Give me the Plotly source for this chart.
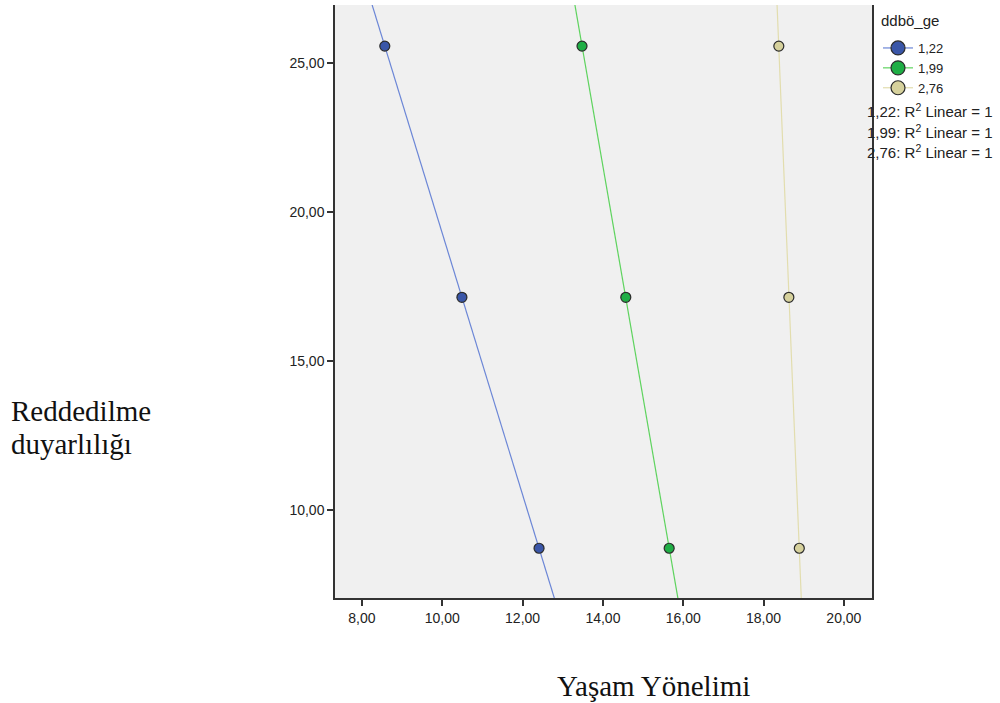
import numpy as np
import plotly.graph_objects as go

# Data
groups = ["1,22", "1,99", "2,76"]
y_vals = [25.57, 17.14, 8.72]                 # Reddedilme duyarlılığı
x_blue = [8.57, 10.49, 12.41]                 # Yaşam Yönelimi, ddbö_ge = 1,22
x_green = [13.48, 14.57, 15.65]               # ddbö_ge = 1,99
x_tan = [18.38, 18.63, 18.89]                 # ddbö_ge = 2,76
x_series = [x_blue, x_green, x_tan]
x_ticks = [8, 10, 12, 14, 16, 18, 20]
y_ticks = [10, 15, 20, 25]

marker_colors = ["#3A56A8", "#1FAE45", "#D6D19C"]
line_colors = ["#6B86D6", "#5ED35E", "#E2DDAE"]

L, R, T, B = 335, 872, 5, 598
PW, PH = R - L, B - T


def px(x):
    return (x - L) / PW


def py(y):
    return (B - y) / PH


fig = go.Figure()

y_ext = np.array([0.0, 40.0])
for g, xs, mc, lc in zip(groups, x_series, marker_colors, line_colors):
    # linear fit (R^2 = 1) of y on x, extended across the plot
    b, a = np.polyfit(xs, y_vals, 1)
    x_ext = (y_ext - a) / b
    fig.add_trace(go.Scatter(x=x_ext, y=y_ext, mode="lines",
                             line=dict(color=lc, width=1.2),
                             showlegend=False, hoverinfo="skip"))
    fig.add_trace(go.Scatter(x=xs, y=y_vals, mode="markers",
                             marker=dict(color=mc, size=10,
                                         line=dict(color="#2B2B2B", width=1.2)),
                             showlegend=False))
    # legend entry
    fig.add_trace(go.Scatter(x=[None], y=[None], mode="lines+markers", name=g,
                             marker=dict(color=mc, size=14,
                                         line=dict(color="#2B2B2B", width=1.2)),
                             line=dict(color=lc, width=1.2)))

fig.update_layout(
    width=1000, height=703,
    margin=dict(l=L, r=1000 - R, t=T, b=703 - B),
    paper_bgcolor="white",
    plot_bgcolor="#F0F0F0",
    separators=",.",
    font=dict(family="Liberation Sans, Arial", size=14, color="#222"),
    showlegend=True,
    legend=dict(
        x=px(878), y=py(33), xanchor="left", yanchor="top",
        font=dict(size=13),
        itemwidth=30, tracegroupgap=0,
        bgcolor="rgba(0,0,0,0)",
    ),
)

fig.update_xaxes(range=[7.33, 20.70], tickvals=x_ticks, tickformat=".2f",
                 showgrid=False, zeroline=False,
                 showline=True, linecolor="#333", linewidth=1.5,
                 ticks="outside", ticklen=6, tickwidth=1.5, tickcolor="#333",
                 tickfont=dict(size=14, color="#222"))
fig.update_yaxes(range=[7.05, 26.95], tickvals=y_ticks, tickformat=".2f",
                 showgrid=False, zeroline=False,
                 showline=True, linecolor="#333", linewidth=1.5, mirror=True,
                 ticks="outside", ticklen=6, tickwidth=1.5, tickcolor="#333",
                 tickfont=dict(size=14, color="#222"))

# Legend title
fig.add_annotation(text="ddbö_ge", xref="paper", yref="paper",
                   x=px(879), y=py(20), xanchor="left", yanchor="middle",
                   showarrow=False, font=dict(size=15, color="#222"))

# R² notes
r2_lines = [f"{g}: R<sup>2</sup> Linear = 1" for g in groups]
for i, t in enumerate(r2_lines):
    fig.add_annotation(text=t, xref="paper", yref="paper",
                       x=px(995), y=py(111 + 20 * i),
                       xanchor="right", yanchor="middle", showarrow=False,
                       font=dict(size=15, color="#222"))

# Axis titles (serif, as in the document)
serif = dict(family="Liberation Serif, Times New Roman", size=29, color="#111")
for i, t in enumerate(["Reddedilme", "duyarlılığı"]):
    fig.add_annotation(text=t, xref="paper", yref="paper",
                       x=px(9), y=py(411 + 33 * i),
                       xanchor="left", yanchor="middle", align="left",
                       showarrow=False, font=serif)
fig.add_annotation(text="Yaşam Yönelimi", xref="paper", yref="paper",
                   x=px(653), y=py(686),
                   xanchor="center", yanchor="middle", showarrow=False,
                   font=serif)

fig.write_html("out.html",
               config={"displayModeBar": False},
               post_script="document.body.style.margin='0px';"
                           "document.body.style.overflow='hidden';")
